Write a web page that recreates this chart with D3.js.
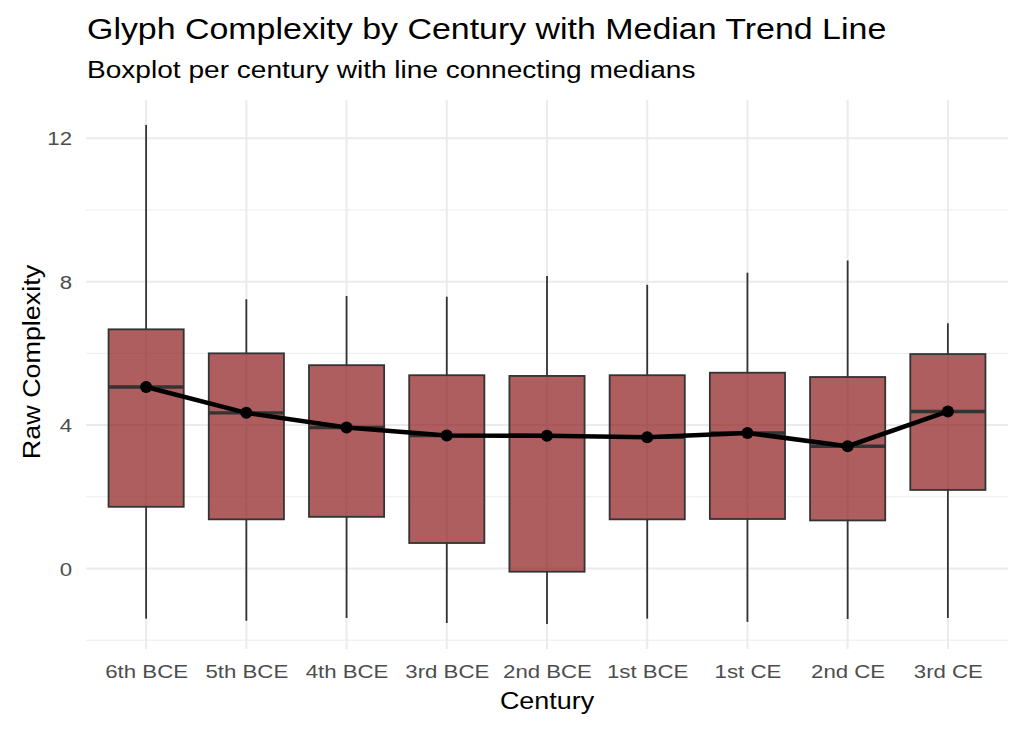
<!DOCTYPE html>
<html>
<head>
<meta charset="utf-8">
<script src="https://cdn.jsdelivr.net/npm/d3@7"></script>
<style>
  body { margin: 0; background: #fff; }
  svg { display: block; font-family: "Liberation Sans", Arial, sans-serif; }
</style>
</head>
<body>
<svg id="chart" width="1023" height="731"></svg>
<script>
// values
var centuries = ["6th BCE", "5th BCE", "4th BCE", "3rd BCE", "2nd BCE", "1st BCE", "1st CE", "2nd CE", "3rd CE"];
var whiskerLow = [-1.40, -1.46, -1.38, -1.52, -1.55, -1.40, -1.49, -1.41, -1.38];
var q1 = [1.72, 1.37, 1.44, 0.71, -0.09, 1.37, 1.38, 1.34, 2.19];
var medians = [5.06, 4.34, 3.93, 3.71, 3.70, 3.66, 3.78, 3.41, 4.38];
var q3 = [6.67, 6.00, 5.67, 5.39, 5.37, 5.39, 5.46, 5.34, 5.98];
var whiskerHigh = [12.37, 7.51, 7.60, 7.58, 8.16, 7.91, 8.25, 8.59, 6.84];
var yTicks = [0, 4, 8, 12];
var yMinor = [-2, 2, 6, 10];

var drawChart = function () {
    let svg = d3.select("#chart"),
        ds = centuries.map((c, i) => ({
            dim: c, lo: whiskerLow[i], q1: q1[i], med: medians[i], q3: q3[i], hi: whiskerHigh[i]
        })),
        cs = {
            pallette: {
                boxFill: "#8B1A1A",
                boxStroke: "#333333",
                grid: "#EBEBEB",
                text: "#4D4D4D"
            },
            panel: { left: 86, right: 1008, top: 100, bottom: 649 },
            sx: 1.17  // the reference text runs a bit wide
        };

    let lo = d3.min(whiskerLow), hi = d3.max(whiskerHigh), pad = (hi - lo) * 0.05;
    cs.y = d3.scaleLinear()
        .domain([lo - pad, hi + pad])
        .range([cs.panel.bottom, cs.panel.top]);

    // discrete axis with ggplot's 0.6 expansion each side
    let step = (cs.panel.right - cs.panel.left) / (centuries.length - 1 + 1.2);
    cs.x = d3.scalePoint()
        .domain(centuries)
        .range([cs.panel.left + 0.6 * step, cs.panel.right - 0.6 * step]);
    cs.boxW = step * 0.75;

    let grid = svg.append("g");
    grid.selectAll(".minor").data(yMinor).enter().append("line")
        .attr("x1", cs.panel.left).attr("x2", cs.panel.right)
        .attr("y1", d => cs.y(d)).attr("y2", d => cs.y(d))
        .attr("stroke", cs.pallette.grid).attr("stroke-width", 1);
    grid.selectAll(".major").data(yTicks).enter().append("line")
        .attr("x1", cs.panel.left).attr("x2", cs.panel.right)
        .attr("y1", d => cs.y(d)).attr("y2", d => cs.y(d))
        .attr("stroke", cs.pallette.grid).attr("stroke-width", 2);
    grid.selectAll(".vert").data(centuries).enter().append("line")
        .attr("x1", d => cs.x(d)).attr("x2", d => cs.x(d))
        .attr("y1", cs.panel.top).attr("y2", cs.panel.bottom)
        .attr("stroke", cs.pallette.grid).attr("stroke-width", 2);

    let boxes = svg.selectAll(".box").data(ds).enter().append("g");
    boxes.append("line")
        .attr("x1", d => cs.x(d.dim)).attr("x2", d => cs.x(d.dim))
        .attr("y1", d => cs.y(d.hi)).attr("y2", d => cs.y(d.q3))
        .attr("stroke", cs.pallette.boxStroke).attr("stroke-width", 1.8);
    boxes.append("line")
        .attr("x1", d => cs.x(d.dim)).attr("x2", d => cs.x(d.dim))
        .attr("y1", d => cs.y(d.q1)).attr("y2", d => cs.y(d.lo))
        .attr("stroke", cs.pallette.boxStroke).attr("stroke-width", 1.8);
    boxes.append("rect")
        .attr("x", d => cs.x(d.dim) - cs.boxW / 2)
        .attr("width", cs.boxW)
        .attr("y", d => cs.y(d.q3))
        .attr("height", d => cs.y(d.q1) - cs.y(d.q3))
        .attr("fill", cs.pallette.boxFill).attr("fill-opacity", 0.7)
        .attr("stroke", cs.pallette.boxStroke).attr("stroke-width", 1.8);
    boxes.append("line")
        .attr("x1", d => cs.x(d.dim) - cs.boxW / 2).attr("x2", d => cs.x(d.dim) + cs.boxW / 2)
        .attr("y1", d => cs.y(d.med)).attr("y2", d => cs.y(d.med))
        .attr("stroke", cs.pallette.boxStroke).attr("stroke-width", 3.4);

    cs.lineFunction = d3.line()
        .x(d => cs.x(d.dim))
        .y(d => cs.y(d.med));

    svg.append("path")
        .datum(ds)
        .attr("fill", "none")
        .attr("stroke", "#000")
        .attr("stroke-width", 4.6)
        .attr("stroke-linejoin", "round")
        .attr("d", cs.lineFunction);

    svg.selectAll(".pt").data(ds).enter().append("circle")
        .attr("cx", d => cs.x(d.dim))
        .attr("cy", d => cs.y(d.med))
        .attr("r", 6)
        .attr("fill", "#000");

    // axes, ggplot minimal: no axis lines, no ticks
    let yAxis = svg.append("g")
        .attr("transform", "translate(" + (cs.panel.left - 14) + ",0)")
        .call(d3.axisLeft(cs.y).tickValues(yTicks).tickSize(0).tickPadding(0).tickFormat(d3.format("d")));
    yAxis.select(".domain").remove();
    yAxis.selectAll("text")
        .attr("fill", cs.pallette.text).attr("font-size", 19).attr("dy", "0.35em")
        .attr("font-family", "Liberation Sans, Arial, sans-serif")
        .attr("transform", "scale(" + cs.sx + ",1)");

    let xAxis = svg.append("g")
        .attr("transform", "translate(0," + (cs.panel.bottom + 29) + ")")
        .call(d3.axisBottom(cs.x).tickSize(0).tickPadding(0));
    xAxis.select(".domain").remove();
    xAxis.selectAll("text")
        .attr("fill", cs.pallette.text).attr("font-size", 19).attr("dy", 0)
        .attr("font-family", "Liberation Sans, Arial, sans-serif")
        .attr("transform", "scale(" + cs.sx + ",1)");

    let label = (tf, size, txt, anchor) => svg.append("text")
        .attr("transform", tf + " scale(" + cs.sx + ",1)")
        .attr("text-anchor", anchor).attr("font-size", size).attr("fill", "#000")
        .text(txt);

    label("translate(" + (cs.panel.left + cs.panel.right) / 2 + ",709)", 23, "Century", "middle");
    label("translate(40,362) rotate(-90)", 23, "Raw Complexity", "middle");
    label("translate(87,38.5)", 29, "Glyph Complexity by Century with Median Trend Line", "start");
    label("translate(87,78)", 24, "Boxplot per century with line connecting medians", "start");
};

drawChart();
</script>
</body>
</html>
